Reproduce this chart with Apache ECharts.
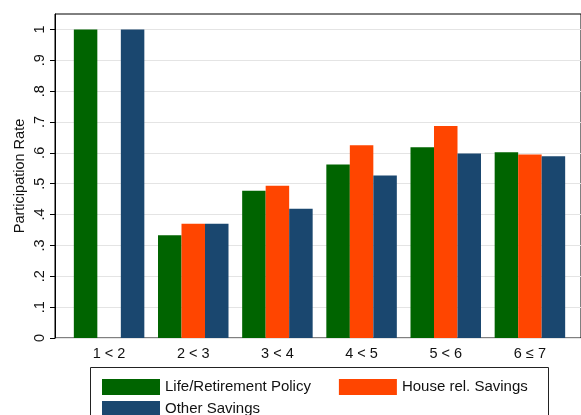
<!DOCTYPE html>
<html>
<head>
<meta charset="utf-8">
<script src="https://cdn.jsdelivr.net/npm/echarts@6/dist/echarts.min.js"></script>
<style>
  html, body { margin: 0; padding: 0; background: #fff; }
  #chart { width: 581px; height: 415px; }
</style>
</head>
<body>
<div id="chart"></div>
<script>
// categories and series values
var categories = ['1 < 2', '2 < 3', '3 < 4', '4 < 5', '5 < 6', '6 ≤ 7']
var lifeRetirement = [1, 0.333, 0.477, 0.562, 0.618, 0.602]
var houseSavings = [null, 0.37, 0.493, 0.625, 0.687, 0.595]
var otherSavings = [1, 0.37, 0.419, 0.527, 0.598, 0.589]
var yTicks = [0, 0.1, 0.2, 0.3, 0.4, 0.5, 0.6, 0.7, 0.8, 0.9, 1]

var font = 'Liberation Sans, Arial, Helvetica, sans-serif'

// stata style labels: 0 .1 .2 ... 1
function tickLabel(v) {
  if (v === 0) return '0'
  if (v === 1) return '1'
  return String(Math.round(v * 10) / 10).replace(/^0/, '')
}

var chart = echarts.init(document.getElementById('chart'))
chart.setOption({
  backgroundColor: '#fff',
  animation: false,
  textStyle: { fontFamily: font },
  grid: [
    // frame with y axis and gridlines
    { left: 55, right: -3, top: 14, bottom: 77, show: true, borderColor: '#000', borderWidth: 1 },
    // bars
    { left: 67, right: 9, top: 14, bottom: 77 }
  ],
  xAxis: [
    { type: 'value', gridIndex: 0, show: false },
    {
      type: 'category',
      gridIndex: 1,
      data: categories,
      axisLine: { show: false },
      axisTick: { show: false },
      axisLabel: { color: '#111', fontSize: 14.5, margin: 8, fontFamily: font }
    }
  ],
  yAxis: [
    {
      type: 'value',
      gridIndex: 0,
      min: 0,
      max: 1.05,
      interval: 0.1,
      name: 'Participation Rate',
      nameLocation: 'middle',
      nameRotate: 90,
      nameGap: 28,
      nameMoveOverlap: false,
      nameTextStyle: { color: '#111', fontSize: 14.5, fontFamily: font },
      axisLine: { show: true, lineStyle: { color: '#000', width: 1 } },
      axisTick: { show: true, length: 5, lineStyle: { color: '#000' }, customValues: yTicks },
      axisLabel: {
        rotate: 90,
        color: '#111',
        fontSize: 14.5,
        margin: 8,
        fontFamily: font,
        customValues: yTicks,
        formatter: tickLabel
      },
      splitLine: { show: true, lineStyle: { color: '#e4e4e4', width: 1.2 } }
    },
    { type: 'value', gridIndex: 1, min: 0, max: 1.05, show: false }
  ],
  legend: [
    {
      data: ['Life/Retirement Policy', 'House rel. Savings'],
      left: 97,
      top: 374,
      itemWidth: 58,
      itemHeight: 16,
      itemGap: 28,
      icon: 'rect',
      selectedMode: false,
      textStyle: { color: '#111', fontSize: 15, fontFamily: font }
    },
    {
      data: ['Other Savings'],
      left: 97,
      top: 396,
      itemWidth: 58,
      itemHeight: 16,
      icon: 'rect',
      selectedMode: false,
      textStyle: { color: '#111', fontSize: 15, fontFamily: font }
    }
  ],
  graphic: [
    {
      type: 'rect',
      shape: { x: 90.5, y: 367.5, width: 458, height: 60 },
      style: { fill: 'none', stroke: '#222', lineWidth: 1 },
      z: -1
    }
  ],
  series: [
    {
      name: 'Life/Retirement Policy',
      type: 'bar',
      xAxisIndex: 1,
      yAxisIndex: 1,
      data: lifeRetirement,
      barWidth: 23.5,
      barGap: 0,
      itemStyle: { color: '#006400' }
    },
    {
      name: 'House rel. Savings',
      type: 'bar',
      xAxisIndex: 1,
      yAxisIndex: 1,
      data: houseSavings,
      barWidth: 23.5,
      barGap: 0,
      itemStyle: { color: '#ff4500' }
    },
    {
      name: 'Other Savings',
      type: 'bar',
      xAxisIndex: 1,
      yAxisIndex: 1,
      data: otherSavings,
      barWidth: 23.5,
      barGap: 0,
      itemStyle: { color: '#1a476f' }
    }
  ]
})
</script>
</body>
</html>
